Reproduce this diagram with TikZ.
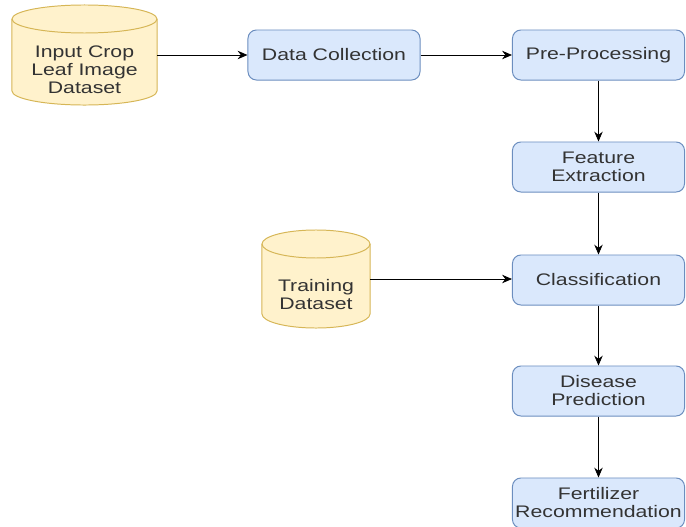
\documentclass[tikz,border=0pt]{standalone}
\usepackage{fontspec}
\setmainfont[FakeStretch=1.27]{Liberation Sans}
\usetikzlibrary{arrows.meta}

\definecolor{stagefill}{HTML}{DAE8FC}
\definecolor{stageline}{HTML}{6C8EBF}
\definecolor{datafill}{HTML}{FFF2CC}
\definecolor{dataline}{HTML}{D6B656}
\definecolor{labelgray}{HTML}{333333}

% cylinder round a named node: #1 node, #2 half width
\newcommand{\datastore}[2]{
    \draw[draw=dataline,fill=datafill,line width=0.7pt]
        ([yshift=-0.35cm]#1.north west) -- ([yshift=0.35cm]#1.south west)
        arc[start angle=180,end angle=360,x radius=#2,y radius=0.35cm]
        -- ([yshift=-0.35cm]#1.north east)
        arc[start angle=0,end angle=180,x radius=#2,y radius=0.35cm] -- cycle;
    \draw[draw=dataline,line width=0.7pt] ([yshift=-0.35cm]#1.north west)
        arc[start angle=180,end angle=360,x radius=#2,y radius=0.35cm];
}

\begin{document}
\begin{tikzpicture}[x=0.025cm,y=-0.025cm,
    stage/.style={draw=stageline,fill=stagefill,line width=0.7pt,rounded corners=6pt,
        minimum width=4.3cm,minimum height=1.25cm,inner xsep=1pt,align=center,text=labelgray,
        font=\fontsize{11.9}{12.8}\selectfont},
    store/.style={inner sep=0pt,outer sep=0pt},
    storetext/.style={align=center,text=labelgray,font=\fontsize{11.9}{12.8}\selectfont},
    flow/.style={-{Stealth[length=7pt,width=6pt]},line width=0.6pt}]
    \useasboundingbox (0,0) rectangle (686,527);

    % data stores
    \node[store,minimum width=3.625cm,minimum height=2.5cm] (input) at (84.5,55) {};
    \datastore{input}{1.8125cm}
    \node[storetext] (inputtext) at ([yshift=-0.38cm]input.center) {Input Crop\\Leaf Image\\Dataset};
    \node[store,minimum width=2.7cm,minimum height=2.45cm] (training) at (316,279) {};
    \datastore{training}{1.35cm}
    \node[storetext] (trainingtext) at ([yshift=-0.4cm]training.center) {Training\\Dataset};

    % processing stages
    \node[stage] (collect) at (334,55) {Data Collection};
    \node[stage] (preproc) at (598.5,55) {Pre-Processing};
    \node[stage] (feature) at (598.5,167) {Feature\\Extraction};
    \node[stage] (classify) at (598.5,280) {Classification};
    \node[stage] (predict) at (598.5,391) {Disease\\Prediction};
    \node[stage] (fertilizer) at (598.5,503) {Fertilizer\\Recommendation};

    \draw[flow] (input) -- (collect);
    \draw[flow] (collect) -- (preproc);
    \draw[flow] (preproc) -- (feature);
    \draw[flow] (feature) -- (classify);
    \draw[flow] (training.east) -- (classify.west |- training.east);
    \draw[flow] (classify) -- (predict);
    \draw[flow] (predict) -- (fertilizer);
\end{tikzpicture}
\end{document}
